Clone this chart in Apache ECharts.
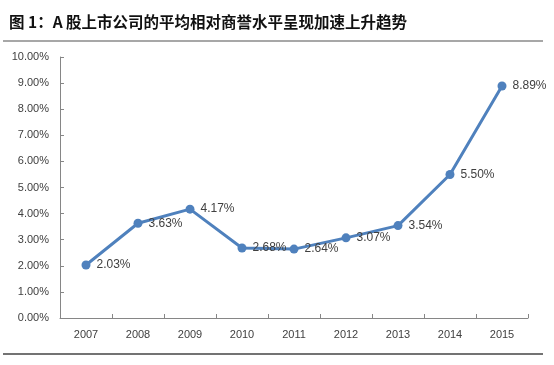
<!DOCTYPE html>
<html>
<head>
<meta charset="utf-8">
<script src="https://cdn.jsdelivr.net/npm/echarts@6/dist/echarts.min.js"></script>
<style>html,body{margin:0;padding:0;background:#fff;}#c{width:554px;height:365px;}</style>
</head>
<body>
<div id="c"></div>
<script>
var titleText = '图 1：A 股上市公司的平均相对商誉水平呈现加速上升趋势';
var years = ['2007','2008','2009','2010','2011','2012','2013','2014','2015'];
var goodwillRatio = [2.03, 3.63, 4.17, 2.68, 2.64, 3.07, 3.54, 5.50, 8.89];
var yTicks = [0, 1, 2, 3, 4, 5, 6, 7, 8, 9, 10];

var chart = echarts.init(document.getElementById('c'), null, {renderer: 'canvas'});
var font = "'Liberation Sans', Arial, sans-serif";
chart.setOption({
  animation: false,
  backgroundColor: '#fff',
  title: {
    text: titleText,
    left: 4, top: 9,
    textStyle: {fontFamily: "'Noto Sans CJK SC', serif", fontSize: 15.5, fontWeight: 'bold', color: '#111'}
  },
  graphic: [
    {type: 'line', shape: {x1: 3, y1: 41, x2: 543, y2: 41}, style: {stroke: '#8a8a8a', lineWidth: 1.5}},
    {type: 'line', shape: {x1: 3, y1: 354, x2: 543, y2: 354}, style: {stroke: '#444', lineWidth: 1.5}}
  ],
  grid: {left: 60, right: 26, top: 57, bottom: 47, containLabel: false},
  xAxis: {
    type: 'category',
    data: years,
    boundaryGap: true,
    axisLine: {lineStyle: {color: '#868686', width: 1}},
    axisTick: {show: true, inside: true, length: 4, lineStyle: {color: '#868686'}},
    axisLabel: {color: '#404040', fontSize: 11, fontFamily: font, margin: 11}
  },
  yAxis: {
    type: 'value',
    min: yTicks[0], max: yTicks[yTicks.length - 1], interval: 1,
    axisLine: {show: true, lineStyle: {color: '#868686', width: 1}},
    axisTick: {show: true, inside: true, length: 4, lineStyle: {color: '#868686'}},
    splitLine: {show: false},
    axisLabel: {color: '#404040', fontSize: 11, fontFamily: font, margin: 11,
      formatter: function (v) { return v.toFixed(2) + '%'; }}
  },
  series: [{
    type: 'line',
    data: goodwillRatio,
    symbol: 'circle',
    symbolSize: 9,
    lineStyle: {color: '#4f81bd', width: 3},
    itemStyle: {color: '#4f81bd'},
    label: {
      show: true, position: 'right', distance: 6,
      color: '#404040', fontSize: 12, fontFamily: font,
      formatter: function (p) { return p.value.toFixed(2) + '%'; }
    }
  }]
});
</script>
</body>
</html>
